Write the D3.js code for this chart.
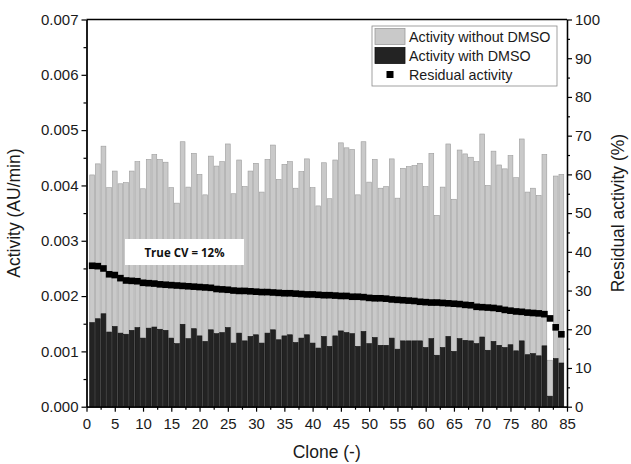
<!DOCTYPE html>
<html>
<head>
<meta charset="utf-8">
<script src="https://cdn.jsdelivr.net/npm/d3@7"></script>
<style>
  body { margin: 0; background: #fff; }
  svg { display: block; font-family: "Liberation Sans", Arial, sans-serif; }
</style>
</head>
<body>
<svg id="chart" width="631" height="464"></svg>
<script>
// activity (AU/min) per clone
const withoutDMSO = [
  0.00419, 0.00439, 0.00471, 0.00396, 0.00426, 0.00403, 0.00405, 0.00426, 0.00443, 0.00394,
  0.00447, 0.00456, 0.00447, 0.00442, 0.00396, 0.00368, 0.00479, 0.00397, 0.00458, 0.00420,
  0.00383, 0.00453, 0.00435, 0.00443, 0.00475, 0.00385, 0.00446, 0.00398, 0.00426, 0.00440,
  0.00388, 0.00447, 0.00473, 0.00411, 0.00438, 0.00443, 0.00395, 0.00425, 0.00448, 0.00396,
  0.00363, 0.00441, 0.00376, 0.00446, 0.00477, 0.00468, 0.00465, 0.00383, 0.00479, 0.00406,
  0.00447, 0.00395, 0.00398, 0.00448, 0.00377, 0.00431, 0.00434, 0.00436, 0.00440, 0.00398,
  0.00458, 0.00346, 0.00397, 0.00475, 0.00375, 0.00464, 0.00457, 0.00451, 0.00443, 0.00493,
  0.00400, 0.00462, 0.00437, 0.00430, 0.00454, 0.00414, 0.00484, 0.00388, 0.00395, 0.00382,
  0.00456, 0.00084, 0.00417, 0.00420
]
const withDMSO = [
  0.00152, 0.00159, 0.00168, 0.00135, 0.00145, 0.00133, 0.00131, 0.00138, 0.00143, 0.00124,
  0.00142, 0.00144, 0.00140, 0.00138, 0.00124, 0.00114, 0.00149, 0.00123, 0.00141, 0.00128,
  0.00118, 0.00139, 0.00132, 0.00134, 0.00143, 0.00115, 0.00133, 0.00119, 0.00127, 0.00130,
  0.00115, 0.00133, 0.00139, 0.00121, 0.00128, 0.00130, 0.00116, 0.00124, 0.00130, 0.00115,
  0.00106, 0.00127, 0.00109, 0.00128, 0.00137, 0.00134, 0.00132, 0.00109, 0.00136, 0.00114,
  0.00125, 0.00111, 0.00111, 0.00124, 0.00104, 0.00119, 0.00119, 0.00119, 0.00119, 0.00107,
  0.00123, 0.00093, 0.00107, 0.00127, 0.00100, 0.00123, 0.00120, 0.00119, 0.00114, 0.00126,
  0.00102, 0.00118, 0.00111, 0.00107, 0.00112, 0.00101, 0.00119, 0.00094, 0.00096, 0.00092,
  0.00110, 0.00019, 0.00087, 0.00079
]
// residual activity (%)
const residual = [
  36.4, 36.3, 35.7, 34.2, 34.0, 33.2, 32.6, 32.5, 32.4, 32.0,
  31.9, 31.8, 31.6, 31.5, 31.4, 31.3, 31.2, 31.1, 31.0, 30.9,
  30.8, 30.7, 30.4, 30.3, 30.2, 30.0, 29.9, 29.9, 29.8, 29.7,
  29.6, 29.6, 29.5, 29.4, 29.3, 29.3, 29.2, 29.1, 29.0, 29.0,
  28.9, 28.8, 28.8, 28.7, 28.6, 28.6, 28.4, 28.4, 28.3, 28.1,
  28.0, 28.0, 27.9, 27.7, 27.6, 27.5, 27.4, 27.3, 27.1, 27.0,
  26.9, 26.9, 26.8, 26.7, 26.6, 26.5, 26.3, 26.2, 25.8, 25.7,
  25.6, 25.5, 25.3, 25.0, 24.8, 24.6, 24.5, 24.3, 24.2, 24.1,
  23.9, 22.8, 20.5, 18.7
]
const clones = withoutDMSO.map((d, i) => i + 1)

const xTicks = d3.range(0, 86, 5)
const leftTicks = [0, 0.001, 0.002, 0.003, 0.004, 0.005, 0.006, 0.007]
const rightTicks = [0, 10, 20, 30, 40, 50, 60, 70, 80, 90, 100]
const legendItems = ["Activity without DMSO", "Activity with DMSO", "Residual activity"]
const cvLabel = "True CV = 12%"

const svg = d3.select("#chart")
const margin = {left: 86.5, right: 567, top: 19.5, bottom: 406.7}

const x = d3.scaleLinear().domain([0, 85]).range([margin.left, margin.right])
const yLeft = d3.scaleLinear().domain([0, 0.007]).range([margin.bottom, margin.top])
const yRight = d3.scaleLinear().domain([0, 100]).range([margin.bottom, margin.top])
const barW = 4.8

// bars, light behind dark
svg.append("g")
  .selectAll("rect")
  .data(clones)
  .join("rect")
  .attr("x", d => x(d) - barW / 2)
  .attr("width", barW)
  .attr("y", (d, i) => yLeft(withoutDMSO[i]))
  .attr("height", (d, i) => yLeft(0) - yLeft(withoutDMSO[i]))
  .attr("fill", "#c9c9c9")
  .attr("stroke", "#9c9c9c")
  .attr("stroke-width", 0.6)

svg.append("g")
  .selectAll("rect")
  .data(clones)
  .join("rect")
  .attr("x", d => x(d) - barW / 2)
  .attr("width", barW)
  .attr("y", (d, i) => yLeft(withDMSO[i]))
  .attr("height", (d, i) => yLeft(0) - yLeft(withDMSO[i]))
  .attr("fill", "#232323")
  .attr("stroke", "#111")
  .attr("stroke-width", 0.6)

// CV annotation box
const cvG = svg.append("g")
cvG.append("rect")
  .attr("x", 125).attr("y", 239)
  .attr("width", 119).attr("height", 26)
  .attr("fill", "#fff")
cvG.append("text")
  .attr("x", 184.5).attr("y", 256.5)
  .attr("text-anchor", "middle")
  .attr("font-family", "'Open Sans', sans-serif")
  .attr("font-weight", 700)
  .attr("font-size", 11.5)
  .attr("fill", "#111")
  .text(cvLabel)

// residual squares
const sq = 6.6
svg.append("g")
  .selectAll("rect")
  .data(clones)
  .join("rect")
  .attr("x", d => x(d) - sq / 2)
  .attr("y", (d, i) => yRight(residual[i]) - sq / 2)
  .attr("width", sq)
  .attr("height", sq)
  .attr("fill", "#000")

// frame + axes
const axisStyle = g => {
  g.selectAll("path.domain").attr("stroke", "#000").attr("stroke-width", 1.3)
  g.selectAll(".tick line").attr("stroke", "#000").attr("stroke-width", 1.2)
  g.selectAll("text").attr("font-size", 15).attr("fill", "#1a1a1a").attr("font-family", "'Liberation Sans', Arial, sans-serif")
}

svg.append("line")
  .attr("x1", margin.left).attr("x2", margin.right)
  .attr("y1", margin.top).attr("y2", margin.top)
  .attr("stroke", "#000").attr("stroke-width", 1.3)

const minor = (ticks, step) => ticks.slice(0, -1).map(t => t + step)

svg.append("g")
  .attr("transform", `translate(0,${margin.bottom})`)
  .call(d3.axisBottom(x).tickValues(minor(xTicks, 2.5)).tickSize(3).tickFormat("").tickSizeOuter(0))
  .call(axisStyle)
svg.append("g")
  .attr("transform", `translate(0,${margin.bottom})`)
  .call(d3.axisBottom(x).tickValues(xTicks).tickSize(5).tickPadding(7).tickSizeOuter(0))
  .call(axisStyle)

svg.append("g")
  .attr("transform", `translate(${margin.left},0)`)
  .call(d3.axisLeft(yLeft).tickValues(minor(leftTicks, 0.0005)).tickSize(3).tickFormat("").tickSizeOuter(0))
  .call(axisStyle)
svg.append("g")
  .attr("transform", `translate(${margin.left},0)`)
  .call(d3.axisLeft(yLeft).tickValues(leftTicks).tickSize(5).tickPadding(3).tickFormat(d3.format(".3f")).tickSizeOuter(0))
  .call(axisStyle)

svg.append("g")
  .attr("transform", `translate(${margin.right},0)`)
  .call(d3.axisRight(yRight).tickValues(minor(rightTicks, 5)).tickSize(3).tickFormat("").tickSizeOuter(0))
  .call(axisStyle)
svg.append("g")
  .attr("transform", `translate(${margin.right},0)`)
  .call(d3.axisRight(yRight).tickValues(rightTicks).tickSize(5).tickPadding(3).tickSizeOuter(0))
  .call(axisStyle)

// axis titles
svg.append("text")
  .attr("x", (margin.left + margin.right) / 2).attr("y", 458)
  .attr("text-anchor", "middle").attr("font-size", 17.5).attr("fill", "#1a1a1a")
  .text("Clone (-)")
svg.append("text")
  .attr("transform", `translate(20,${(margin.top + margin.bottom) / 2}) rotate(-90)`)
  .attr("text-anchor", "middle").attr("font-size", 17.5).attr("fill", "#1a1a1a")
  .text("Activity (AU/min)")
svg.append("text")
  .attr("transform", `translate(624,${(margin.top + margin.bottom) / 2}) rotate(-90)`)
  .attr("text-anchor", "middle").attr("font-size", 17.5).attr("fill", "#1a1a1a")
  .text("Residual activity (%)")

// legend
const lg = svg.append("g").attr("transform", "translate(372,26)")
lg.append("rect")
  .attr("width", 185).attr("height", 60)
  .attr("fill", "#fff").attr("stroke", "#8a8a8a").attr("stroke-width", 0.8)
const rows = lg.selectAll("g.row")
  .data(legendItems)
  .join("g")
  .attr("class", "row")
  .attr("transform", (d, i) => `translate(0,${10.5 + i * 19})`)
rows.filter((d, i) => i < 2).append("rect")
  .attr("x", 3).attr("y", -8)
  .attr("width", 30).attr("height", 16)
  .attr("fill", (d, i) => i === 0 ? "#c9c9c9" : "#232323")
  .attr("stroke", (d, i) => i === 0 ? "#9c9c9c" : "#111")
  .attr("stroke-width", 0.8)
rows.filter((d, i) => i === 2).append("rect")
  .attr("x", 18 - 3.5).attr("y", -3.5)
  .attr("width", 7).attr("height", 7)
  .attr("fill", "#000")
rows.append("text")
  .attr("x", 37).attr("y", 5)
  .attr("font-size", 14.3).attr("fill", "#1a1a1a")
  .text(d => d)
</script>
</body>
</html>
